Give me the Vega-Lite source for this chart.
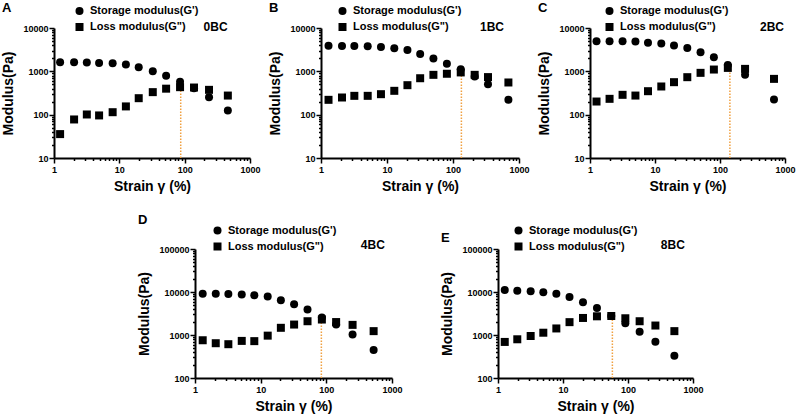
{
"$schema":"https://vega.github.io/schema/vega-lite/v6.json",
"background":"white",
"padding":{"left":1,"top":2,"right":2,"bottom":2},
"config":{
 "view":{"stroke":null},
 "axis":{"grid":false,"domainColor":"black","domainWidth":2,"tickColor":"black","tickWidth":1.5,"labelFont":"Liberation Sans","labelFontWeight":"bold","labelFontSize":9,"labelColor":"black","titleFont":"Liberation Sans","titleFontWeight":"bold","titleFontSize":14,"titleColor":"black","labelOverlap":false,"labelFlush":false},
 "legend":{"labelFont":"Liberation Sans","labelFontSize":11,"labelFontWeight":"bold","labelColor":"black","symbolSize":64,"rowPadding":4,"labelOffset":5,"symbolStrokeWidth":0,"symbolFillColor":"black"},
 "title":{"font":"Liberation Sans","fontSize":13,"fontWeight":"bold","color":"black","anchor":"start","frame":"bounds"}
},
"resolve":{"scale":{"shape":"independent"},"legend":{"shape":"independent"}},
"datasets":{
 "pts":[
  {"panel":"A","strain":1.24,"modulus":1620,"series":"Storage modulus(G')"},
  {"panel":"A","strain":2.03,"modulus":1620,"series":"Storage modulus(G')"},
  {"panel":"A","strain":3.18,"modulus":1590,"series":"Storage modulus(G')"},
  {"panel":"A","strain":4.9,"modulus":1563,"series":"Storage modulus(G')"},
  {"panel":"A","strain":7.9,"modulus":1535,"series":"Storage modulus(G')"},
  {"panel":"A","strain":12.6,"modulus":1430,"series":"Storage modulus(G')"},
  {"panel":"A","strain":19.8,"modulus":1243,"series":"Storage modulus(G')"},
  {"panel":"A","strain":32.5,"modulus":1000,"series":"Storage modulus(G')"},
  {"panel":"A","strain":52,"modulus":794,"series":"Storage modulus(G')"},
  {"panel":"A","strain":85,"modulus":577,"series":"Storage modulus(G')"},
  {"panel":"A","strain":139,"modulus":405,"series":"Storage modulus(G')"},
  {"panel":"A","strain":236,"modulus":251,"series":"Storage modulus(G')"},
  {"panel":"A","strain":458,"modulus":125,"series":"Storage modulus(G')"},
  {"panel":"A","strain":1.24,"modulus":35.6,"series":"Loss modulus(G\")"},
  {"panel":"A","strain":2.03,"modulus":77.5,"series":"Loss modulus(G\")"},
  {"panel":"A","strain":3.18,"modulus":101,"series":"Loss modulus(G\")"},
  {"panel":"A","strain":4.9,"modulus":96,"series":"Loss modulus(G\")"},
  {"panel":"A","strain":7.9,"modulus":114,"series":"Loss modulus(G\")"},
  {"panel":"A","strain":12.6,"modulus":155,"series":"Loss modulus(G\")"},
  {"panel":"A","strain":19.8,"modulus":240,"series":"Loss modulus(G\")"},
  {"panel":"A","strain":32.5,"modulus":331,"series":"Loss modulus(G\")"},
  {"panel":"A","strain":52,"modulus":398,"series":"Loss modulus(G\")"},
  {"panel":"A","strain":85,"modulus":431,"series":"Loss modulus(G\")"},
  {"panel":"A","strain":139,"modulus":423,"series":"Loss modulus(G\")"},
  {"panel":"A","strain":236,"modulus":374,"series":"Loss modulus(G\")"},
  {"panel":"A","strain":458,"modulus":276,"series":"Loss modulus(G\")"},
  {"panel":"B","strain":1.3,"modulus":3900,"series":"Storage modulus(G')"},
  {"panel":"B","strain":2.08,"modulus":3840,"series":"Storage modulus(G')"},
  {"panel":"B","strain":3.2,"modulus":3840,"series":"Storage modulus(G')"},
  {"panel":"B","strain":5.1,"modulus":3770,"series":"Storage modulus(G')"},
  {"panel":"B","strain":8.1,"modulus":3640,"series":"Storage modulus(G')"},
  {"panel":"B","strain":12.9,"modulus":3390,"series":"Storage modulus(G')"},
  {"panel":"B","strain":20.4,"modulus":3100,"series":"Storage modulus(G')"},
  {"panel":"B","strain":31.8,"modulus":2510,"series":"Storage modulus(G')"},
  {"panel":"B","strain":50.5,"modulus":1990,"series":"Storage modulus(G')"},
  {"panel":"B","strain":80.8,"modulus":1500,"series":"Storage modulus(G')"},
  {"panel":"B","strain":131,"modulus":1110,"series":"Storage modulus(G')"},
  {"panel":"B","strain":213,"modulus":760,"series":"Storage modulus(G')"},
  {"panel":"B","strain":339,"modulus":505,"series":"Storage modulus(G')"},
  {"panel":"B","strain":691,"modulus":220,"series":"Storage modulus(G')"},
  {"panel":"B","strain":1.3,"modulus":220,"series":"Loss modulus(G\")"},
  {"panel":"B","strain":2.08,"modulus":249,"series":"Loss modulus(G\")"},
  {"panel":"B","strain":3.2,"modulus":272,"series":"Loss modulus(G\")"},
  {"panel":"B","strain":5.1,"modulus":272,"series":"Loss modulus(G\")"},
  {"panel":"B","strain":8.1,"modulus":297,"series":"Loss modulus(G\")"},
  {"panel":"B","strain":12.9,"modulus":355,"series":"Loss modulus(G\")"},
  {"panel":"B","strain":20.4,"modulus":479,"series":"Loss modulus(G\")"},
  {"panel":"B","strain":31.8,"modulus":693,"series":"Loss modulus(G\")"},
  {"panel":"B","strain":50.5,"modulus":830,"series":"Loss modulus(G\")"},
  {"panel":"B","strain":80.8,"modulus":879,"series":"Loss modulus(G\")"},
  {"panel":"B","strain":131,"modulus":944,"series":"Loss modulus(G\")"},
  {"panel":"B","strain":213,"modulus":830,"series":"Loss modulus(G\")"},
  {"panel":"B","strain":339,"modulus":736,"series":"Loss modulus(G\")"},
  {"panel":"B","strain":691,"modulus":553,"series":"Loss modulus(G\")"},
  {"panel":"C","strain":1.26,"modulus":4930,"series":"Storage modulus(G')"},
  {"panel":"C","strain":2.0,"modulus":4930,"series":"Storage modulus(G')"},
  {"panel":"C","strain":3.17,"modulus":4930,"series":"Storage modulus(G')"},
  {"panel":"C","strain":5.0,"modulus":4850,"series":"Storage modulus(G')"},
  {"panel":"C","strain":7.8,"modulus":4590,"series":"Storage modulus(G')"},
  {"panel":"C","strain":12.5,"modulus":4360,"series":"Storage modulus(G')"},
  {"panel":"C","strain":19.6,"modulus":3920,"series":"Storage modulus(G')"},
  {"panel":"C","strain":31.4,"modulus":3470,"series":"Storage modulus(G')"},
  {"panel":"C","strain":50.2,"modulus":2750,"series":"Storage modulus(G')"},
  {"panel":"C","strain":80.5,"modulus":2110,"series":"Storage modulus(G')"},
  {"panel":"C","strain":132,"modulus":1400,"series":"Storage modulus(G')"},
  {"panel":"C","strain":243,"modulus":830,"series":"Storage modulus(G')"},
  {"panel":"C","strain":677,"modulus":225,"series":"Storage modulus(G')"},
  {"panel":"C","strain":1.26,"modulus":201,"series":"Loss modulus(G\")"},
  {"panel":"C","strain":2.0,"modulus":232,"series":"Loss modulus(G\")"},
  {"panel":"C","strain":3.17,"modulus":287,"series":"Loss modulus(G\")"},
  {"panel":"C","strain":5.0,"modulus":276,"series":"Loss modulus(G\")"},
  {"panel":"C","strain":7.8,"modulus":348,"series":"Loss modulus(G\")"},
  {"panel":"C","strain":12.5,"modulus":447,"series":"Loss modulus(G\")"},
  {"panel":"C","strain":19.6,"modulus":562,"series":"Loss modulus(G\")"},
  {"panel":"C","strain":31.4,"modulus":733,"series":"Loss modulus(G\")"},
  {"panel":"C","strain":50.2,"modulus":923,"series":"Loss modulus(G\")"},
  {"panel":"C","strain":80.5,"modulus":1100,"series":"Loss modulus(G\")"},
  {"panel":"C","strain":132,"modulus":1200,"series":"Loss modulus(G\")"},
  {"panel":"C","strain":243,"modulus":1140,"series":"Loss modulus(G\")"},
  {"panel":"C","strain":677,"modulus":670,"series":"Loss modulus(G\")"},
  {"panel":"D","strain":1.31,"modulus":9160,"series":"Storage modulus(G')"},
  {"panel":"D","strain":2.07,"modulus":9160,"series":"Storage modulus(G')"},
  {"panel":"D","strain":3.22,"modulus":9000,"series":"Storage modulus(G')"},
  {"panel":"D","strain":5.15,"modulus":8690,"series":"Storage modulus(G')"},
  {"panel":"D","strain":8.0,"modulus":8390,"series":"Storage modulus(G')"},
  {"panel":"D","strain":12.8,"modulus":7820,"series":"Storage modulus(G')"},
  {"panel":"D","strain":20.3,"modulus":6450,"series":"Storage modulus(G')"},
  {"panel":"D","strain":32.3,"modulus":5220,"series":"Storage modulus(G')"},
  {"panel":"D","strain":51.7,"modulus":3940,"series":"Storage modulus(G')"},
  {"panel":"D","strain":85.5,"modulus":2550,"series":"Storage modulus(G')"},
  {"panel":"D","strain":141,"modulus":1750,"series":"Storage modulus(G')"},
  {"panel":"D","strain":251,"modulus":1030,"series":"Storage modulus(G')"},
  {"panel":"D","strain":525,"modulus":446,"series":"Storage modulus(G')"},
  {"panel":"D","strain":1.31,"modulus":755,"series":"Loss modulus(G\")"},
  {"panel":"D","strain":2.07,"modulus":644,"series":"Loss modulus(G\")"},
  {"panel":"D","strain":3.22,"modulus":611,"series":"Loss modulus(G\")"},
  {"panel":"D","strain":5.15,"modulus":729,"series":"Loss modulus(G\")"},
  {"panel":"D","strain":8.0,"modulus":720,"series":"Loss modulus(G\")"},
  {"panel":"D","strain":12.8,"modulus":966,"series":"Loss modulus(G\")"},
  {"panel":"D","strain":20.3,"modulus":1470,"series":"Loss modulus(G\")"},
  {"panel":"D","strain":32.3,"modulus":1750,"series":"Loss modulus(G\")"},
  {"panel":"D","strain":51.7,"modulus":2090,"series":"Loss modulus(G\")"},
  {"panel":"D","strain":85.5,"modulus":2290,"series":"Loss modulus(G\")"},
  {"panel":"D","strain":141,"modulus":2000,"series":"Loss modulus(G\")"},
  {"panel":"D","strain":251,"modulus":1720,"series":"Loss modulus(G\")"},
  {"panel":"D","strain":525,"modulus":1230,"series":"Loss modulus(G\")"},
  {"panel":"E","strain":1.27,"modulus":11100,"series":"Storage modulus(G')"},
  {"panel":"E","strain":1.98,"modulus":10700,"series":"Storage modulus(G')"},
  {"panel":"E","strain":3.18,"modulus":10400,"series":"Storage modulus(G')"},
  {"panel":"E","strain":4.98,"modulus":9820,"series":"Storage modulus(G')"},
  {"panel":"E","strain":7.9,"modulus":9160,"series":"Storage modulus(G')"},
  {"panel":"E","strain":12.6,"modulus":7680,"series":"Storage modulus(G')"},
  {"panel":"E","strain":20.3,"modulus":5800,"series":"Storage modulus(G')"},
  {"panel":"E","strain":33.3,"modulus":4230,"series":"Storage modulus(G')"},
  {"panel":"E","strain":55.3,"modulus":2770,"series":"Storage modulus(G')"},
  {"panel":"E","strain":91,"modulus":1880,"series":"Storage modulus(G')"},
  {"panel":"E","strain":151,"modulus":1190,"series":"Storage modulus(G')"},
  {"panel":"E","strain":264,"modulus":695,"series":"Storage modulus(G')"},
  {"panel":"E","strain":517,"modulus":330,"series":"Storage modulus(G')"},
  {"panel":"E","strain":1.27,"modulus":690,"series":"Loss modulus(G\")"},
  {"panel":"E","strain":1.98,"modulus":795,"series":"Loss modulus(G\")"},
  {"panel":"E","strain":3.18,"modulus":948,"series":"Loss modulus(G\")"},
  {"panel":"E","strain":4.98,"modulus":1130,"series":"Loss modulus(G\")"},
  {"panel":"E","strain":7.9,"modulus":1420,"series":"Loss modulus(G\")"},
  {"panel":"E","strain":12.6,"modulus":1990,"series":"Loss modulus(G\")"},
  {"panel":"E","strain":20.3,"modulus":2490,"series":"Loss modulus(G\")"},
  {"panel":"E","strain":33.3,"modulus":2720,"series":"Loss modulus(G\")"},
  {"panel":"E","strain":55.3,"modulus":2770,"series":"Loss modulus(G\")"},
  {"panel":"E","strain":91,"modulus":2450,"series":"Loss modulus(G\")"},
  {"panel":"E","strain":151,"modulus":2090,"series":"Loss modulus(G\")"},
  {"panel":"E","strain":264,"modulus":1660,"series":"Loss modulus(G\")"},
  {"panel":"E","strain":517,"modulus":1230,"series":"Loss modulus(G\")"}
 ],
 "cross":[
  {"panel":"A","sample":"0BC","crossover":87,"low":10,"high":460},
  {"panel":"B","sample":"1BC","crossover":134,"low":10,"high":1000},
  {"panel":"C","sample":"2BC","crossover":142,"low":10,"high":1200},
  {"panel":"D","sample":"4BC","crossover":84,"low":100,"high":2300},
  {"panel":"E","sample":"8BC","crossover":57.5,"low":100,"high":2600}
 ]
},
"spacing":21,
"vconcat":[
 {"spacing":7,"resolve":{"scale":{"shape":"independent"},"legend":{"shape":"independent"}},"hconcat":[
  {"width":196,"height":130,"title":{"text":"A","offset":-9.5},
   "layer":[
    {"data":{"name":"cross"},"transform":[{"filter":"datum.panel==='A'"}],"mark":{"type":"rule","color":"#F0A040","strokeDash":[1.5,1.5],"strokeWidth":1.5},
     "encoding":{"x":{"field":"crossover","type":"quantitative","scale":{"type":"log","domain":[1,1000]},"axis":{"title":"Strain γ (%)","format":"d","values":[1,2,3,4,5,6,7,8,9,10,20,30,40,50,60,70,80,90,100,200,300,400,500,600,700,800,900,1000],"labelExpr":"indexof([1,10,100,1000],datum.value)>=0?datum.label:''","tickSize":{"condition":{"test":"indexof([1,10,100,1000],datum.value)>=0","value":5},"value":2.5},"labelPadding":2,"titlePadding":5}},
      "y":{"field":"low","type":"quantitative","scale":{"type":"log","domain":[10,10000]},"axis":{"title":"Modulus(Pa)","values":[10,20,30,40,50,60,70,80,90,100,200,300,400,500,600,700,800,900,1000,2000,3000,4000,5000,6000,7000,8000,9000,10000],"labelExpr":"indexof([10,100,1000,10000],datum.value)>=0?datum.label:''","tickSize":{"condition":{"test":"indexof([10,100,1000,10000],datum.value)>=0","value":5},"value":2.5},"labelPadding":1,"titlePadding":7,"format":"d"}},
      "y2":{"field":"high"}}},
    {"data":{"name":"pts"},"transform":[{"filter":"datum.panel==='A'"}],"mark":{"type":"point","filled":true,"opacity":1,"size":64,"color":"black"},
     "encoding":{"x":{"field":"strain","type":"quantitative"},"y":{"field":"modulus","type":"quantitative"},
      "shape":{"field":"series","type":"nominal","scale":{"domain":["Storage modulus(G')","Loss modulus(G\")"],"range":["circle","square"]},"legend":{"orient":"none","legendX":20,"legendY":-22.5,"title":null}}}},
    {"data":{"name":"cross"},"transform":[{"filter":"datum.panel==='A'"}],"mark":{"type":"text","font":"Liberation Sans","fontSize":12,"fontWeight":"bold","baseline":"middle","color":"black","dy":-1},
     "encoding":{"x":{"datum":297},"y":{"datum":10000},"text":{"field":"sample"}}}
   ]},
  {"width":198,"height":130,"title":{"text":"B","offset":-9.5},
   "layer":[
    {"data":{"name":"cross"},"transform":[{"filter":"datum.panel==='B'"}],"mark":{"type":"rule","color":"#F0A040","strokeDash":[1.5,1.5],"strokeWidth":1.5},
     "encoding":{"x":{"field":"crossover","type":"quantitative","scale":{"type":"log","domain":[1,1000]},"axis":{"title":"Strain γ (%)","format":"d","values":[1,2,3,4,5,6,7,8,9,10,20,30,40,50,60,70,80,90,100,200,300,400,500,600,700,800,900,1000],"labelExpr":"indexof([1,10,100,1000],datum.value)>=0?datum.label:''","tickSize":{"condition":{"test":"indexof([1,10,100,1000],datum.value)>=0","value":5},"value":2.5},"labelPadding":2,"titlePadding":5}},
      "y":{"field":"low","type":"quantitative","scale":{"type":"log","domain":[10,10000]},"axis":{"title":"Modulus(Pa)","values":[10,20,30,40,50,60,70,80,90,100,200,300,400,500,600,700,800,900,1000,2000,3000,4000,5000,6000,7000,8000,9000,10000],"labelExpr":"indexof([10,100,1000,10000],datum.value)>=0?datum.label:''","tickSize":{"condition":{"test":"indexof([10,100,1000,10000],datum.value)>=0","value":5},"value":2.5},"labelPadding":1,"titlePadding":7,"format":"d"}},
      "y2":{"field":"high"}}},
    {"data":{"name":"pts"},"transform":[{"filter":"datum.panel==='B'"}],"mark":{"type":"point","filled":true,"opacity":1,"size":64,"color":"black"},
     "encoding":{"x":{"field":"strain","type":"quantitative"},"y":{"field":"modulus","type":"quantitative"},
      "shape":{"field":"series","type":"nominal","scale":{"domain":["Storage modulus(G')","Loss modulus(G\")"],"range":["circle","square"]},"legend":{"orient":"none","legendX":16,"legendY":-22.5,"title":null}}}},
    {"data":{"name":"cross"},"transform":[{"filter":"datum.panel==='B'"}],"mark":{"type":"text","font":"Liberation Sans","fontSize":12,"fontWeight":"bold","baseline":"middle","color":"black","dy":-1},
     "encoding":{"x":{"datum":390},"y":{"datum":10000},"text":{"field":"sample"}}}
   ]},
  {"width":195,"height":130,"title":{"text":"C","offset":-9.5},
   "layer":[
    {"data":{"name":"cross"},"transform":[{"filter":"datum.panel==='C'"}],"mark":{"type":"rule","color":"#F0A040","strokeDash":[1.5,1.5],"strokeWidth":1.5},
     "encoding":{"x":{"field":"crossover","type":"quantitative","scale":{"type":"log","domain":[1,1000]},"axis":{"title":"Strain γ (%)","format":"d","values":[1,2,3,4,5,6,7,8,9,10,20,30,40,50,60,70,80,90,100,200,300,400,500,600,700,800,900,1000],"labelExpr":"indexof([1,10,100,1000],datum.value)>=0?datum.label:''","tickSize":{"condition":{"test":"indexof([1,10,100,1000],datum.value)>=0","value":5},"value":2.5},"labelPadding":2,"titlePadding":5}},
      "y":{"field":"low","type":"quantitative","scale":{"type":"log","domain":[10,10000]},"axis":{"title":"Modulus(Pa)","values":[10,20,30,40,50,60,70,80,90,100,200,300,400,500,600,700,800,900,1000,2000,3000,4000,5000,6000,7000,8000,9000,10000],"labelExpr":"indexof([10,100,1000,10000],datum.value)>=0?datum.label:''","tickSize":{"condition":{"test":"indexof([10,100,1000,10000],datum.value)>=0","value":5},"value":2.5},"labelPadding":1,"titlePadding":7,"format":"d"}},
      "y2":{"field":"high"}}},
    {"data":{"name":"pts"},"transform":[{"filter":"datum.panel==='C'"}],"mark":{"type":"point","filled":true,"opacity":1,"size":64,"color":"black"},
     "encoding":{"x":{"field":"strain","type":"quantitative"},"y":{"field":"modulus","type":"quantitative"},
      "shape":{"field":"series","type":"nominal","scale":{"domain":["Storage modulus(G')","Loss modulus(G\")"],"range":["circle","square"]},"legend":{"orient":"none","legendX":14,"legendY":-22.5,"title":null}}}},
    {"data":{"name":"cross"},"transform":[{"filter":"datum.panel==='C'"}],"mark":{"type":"text","font":"Liberation Sans","fontSize":12,"fontWeight":"bold","baseline":"middle","color":"black","dy":-1},
     "encoding":{"x":{"datum":630},"y":{"datum":10000},"text":{"field":"sample"}}}
   ]}
 ]},
 {"spacing":37,"resolve":{"scale":{"shape":"independent"},"legend":{"shape":"independent"}},"hconcat":[
  {"width":46,"height":129,"data":{"values":[]},"mark":"point"},
  {"width":197,"height":129,"title":{"text":"D","offset":-2},
   "layer":[
    {"data":{"name":"cross"},"transform":[{"filter":"datum.panel==='D'"}],"mark":{"type":"rule","color":"#F0A040","strokeDash":[1.5,1.5],"strokeWidth":1.5},
     "encoding":{"x":{"field":"crossover","type":"quantitative","scale":{"type":"log","domain":[1,1000]},"axis":{"title":"Strain γ (%)","format":"d","values":[1,2,3,4,5,6,7,8,9,10,20,30,40,50,60,70,80,90,100,200,300,400,500,600,700,800,900,1000],"labelExpr":"indexof([1,10,100,1000],datum.value)>=0?datum.label:''","tickSize":{"condition":{"test":"indexof([1,10,100,1000],datum.value)>=0","value":5},"value":2.5},"labelPadding":2,"titlePadding":5}},
      "y":{"field":"low","type":"quantitative","scale":{"type":"log","domain":[100,100000]},"axis":{"title":"Modulus(Pa)","values":[100,200,300,400,500,600,700,800,900,1000,2000,3000,4000,5000,6000,7000,8000,9000,10000,20000,30000,40000,50000,60000,70000,80000,90000,100000],"labelExpr":"indexof([100,1000,10000,100000],datum.value)>=0?datum.label:''","tickSize":{"condition":{"test":"indexof([100,1000,10000,100000],datum.value)>=0","value":5},"value":2.5},"labelPadding":1,"titlePadding":7,"format":"d"}},
      "y2":{"field":"high"}}},
    {"data":{"name":"pts"},"transform":[{"filter":"datum.panel==='D'"}],"mark":{"type":"point","filled":true,"opacity":1,"size":64,"color":"black"},
     "encoding":{"x":{"field":"strain","type":"quantitative"},"y":{"field":"modulus","type":"quantitative"},
      "shape":{"field":"series","type":"nominal","scale":{"domain":["Storage modulus(G')","Loss modulus(G\")"],"range":["circle","square"]},"legend":{"orient":"none","legendX":17,"legendY":-24,"title":null}}}},
    {"data":{"name":"cross"},"transform":[{"filter":"datum.panel==='D'"}],"mark":{"type":"text","font":"Liberation Sans","fontSize":12,"fontWeight":"bold","baseline":"bottom","color":"black","dy":3},
     "encoding":{"x":{"datum":510},"y":{"datum":100000},"text":{"field":"sample"}}}
   ]},
  {"width":195,"height":129,"title":{"text":"E","offset":-19.5},
   "layer":[
    {"data":{"name":"cross"},"transform":[{"filter":"datum.panel==='E'"}],"mark":{"type":"rule","color":"#F0A040","strokeDash":[1.5,1.5],"strokeWidth":1.5},
     "encoding":{"x":{"field":"crossover","type":"quantitative","scale":{"type":"log","domain":[1,1000]},"axis":{"title":"Strain γ (%)","format":"d","values":[1,2,3,4,5,6,7,8,9,10,20,30,40,50,60,70,80,90,100,200,300,400,500,600,700,800,900,1000],"labelExpr":"indexof([1,10,100,1000],datum.value)>=0?datum.label:''","tickSize":{"condition":{"test":"indexof([1,10,100,1000],datum.value)>=0","value":5},"value":2.5},"labelPadding":2,"titlePadding":5}},
      "y":{"field":"low","type":"quantitative","scale":{"type":"log","domain":[100,100000]},"axis":{"title":"Modulus(Pa)","values":[100,200,300,400,500,600,700,800,900,1000,2000,3000,4000,5000,6000,7000,8000,9000,10000,20000,30000,40000,50000,60000,70000,80000,90000,100000],"labelExpr":"indexof([100,1000,10000,100000],datum.value)>=0?datum.label:''","tickSize":{"condition":{"test":"indexof([100,1000,10000,100000],datum.value)>=0","value":5},"value":2.5},"labelPadding":1,"titlePadding":7,"format":"d"}},
      "y2":{"field":"high"}}},
    {"data":{"name":"pts"},"transform":[{"filter":"datum.panel==='E'"}],"mark":{"type":"point","filled":true,"opacity":1,"size":64,"color":"black"},
     "encoding":{"x":{"field":"strain","type":"quantitative"},"y":{"field":"modulus","type":"quantitative"},
      "shape":{"field":"series","type":"nominal","scale":{"domain":["Storage modulus(G')","Loss modulus(G\")"],"range":["circle","square"]},"legend":{"orient":"none","legendX":15,"legendY":-24,"title":null}}}},
    {"data":{"name":"cross"},"transform":[{"filter":"datum.panel==='E'"}],"mark":{"type":"text","font":"Liberation Sans","fontSize":12,"fontWeight":"bold","baseline":"bottom","color":"black","dy":3},
     "encoding":{"x":{"datum":490},"y":{"datum":100000},"text":{"field":"sample"}}}
   ]}
 ]}
]
}
